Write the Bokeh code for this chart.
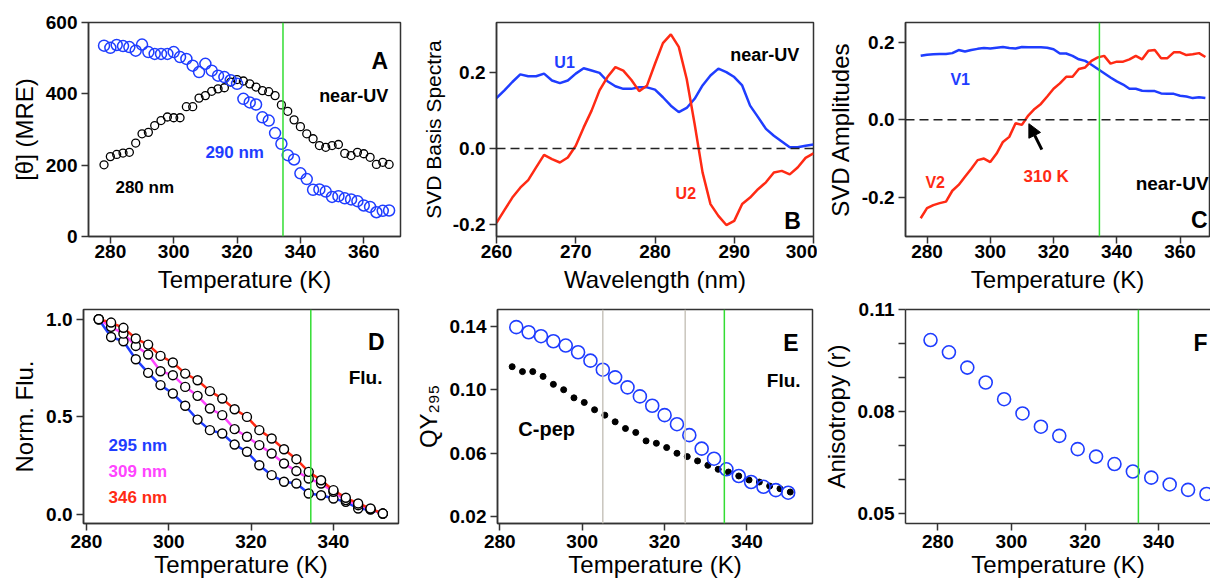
from bokeh.plotting import figure
from bokeh.layouts import column, row
from bokeh.models import Range1d, FixedTicker, PrintfTickFormatter, Span, Arrow, NormalHead, LinearAxis
from bokeh.core.properties import value
from bokeh.embed import file_html
from bokeh.resources import INLINE

FONT = "Liberation Sans"
BLUE = "#1f3dff"
RED = "#ff2a14"
MAGENTA = "#ff45ff"
GREEN = "#33dd33"
GRAY = "#c9c5bd"
AXC = "#333333"

TM = 334.5

# ---- Panel A: near-UV CD vs temperature
temp_a = [278, 280, 282, 284, 286, 288, 290, 292, 294, 296, 298, 300, 302, 304, 306, 308,
          310, 312, 314, 316, 318, 320, 322, 324, 326, 328, 330, 332, 334, 336, 338, 340,
          342, 344, 346, 348, 350, 352, 354, 356, 358, 360, 362, 364, 366, 368]
cd_280 = [201, 224, 230, 234, 236, 262, 288, 292, 311, 325, 335, 333, 333, 364, 364, 388,
          395, 407, 414, 417, 433, 440, 436, 428, 419, 409, 406, 395, 369, 351, 327, 308,
          288, 274, 255, 250, 255, 258, 233, 227, 236, 232, 222, 202, 208, 202]
cd_290 = [535, 529, 537, 534, 531, 521, 538, 517, 512, 512, 512, 517, 503, 498, 479, 461,
          484, 465, 451, 447, 438, 428, 386, 376, 370, 334, 325, 290, 260, 228, 216, 177,
          161, 131, 132, 126, 111, 113, 107, 104, 99, 87, 83, 68, 72, 73]

# ---- Panel B: SVD basis spectra
wavelength = [260, 261, 262, 263, 264, 265, 266, 267, 268, 269, 270, 271, 272, 273, 274, 275,
              276, 277, 278, 279, 280, 281, 282, 283, 284, 285, 286, 287, 288, 289, 290, 291,
              292, 293, 294, 295, 296, 297, 298, 299, 300]
u1 = [0.132, 0.152, 0.174, 0.194, 0.189, 0.189, 0.196, 0.178, 0.171, 0.178, 0.196, 0.210,
      0.204, 0.198, 0.176, 0.163, 0.156, 0.156, 0.160, 0.160, 0.154, 0.134, 0.112, 0.095,
      0.106, 0.130, 0.165, 0.191, 0.209, 0.200, 0.187, 0.165, 0.112, 0.082, 0.051, 0.033,
      0.018, 0.003, 0.003, 0.007, 0.010]
u2 = [-0.195, -0.162, -0.129, -0.103, -0.083, -0.050, -0.017, -0.028, -0.037, -0.024, 0.007,
      0.055, 0.099, 0.152, 0.187, 0.213, 0.204, 0.180, 0.150, 0.165, 0.222, 0.276, 0.299,
      0.266, 0.182, 0.064, -0.063, -0.146, -0.177, -0.201, -0.190, -0.146, -0.129, -0.107,
      -0.089, -0.063, -0.059, -0.068, -0.050, -0.025, -0.013]

# ---- Panel C: SVD amplitudes
temp_c = [278, 280, 282, 284, 286, 288, 290, 292, 294, 296, 298, 300, 302, 304, 306, 308,
          310, 312, 314, 316, 318, 320, 322, 324, 326, 328, 330, 332, 334, 336, 338, 340,
          342, 344, 346, 348, 350, 352, 354, 356, 358, 360, 362, 364, 366, 368]
v1 = [0.165, 0.168, 0.169, 0.170, 0.170, 0.172, 0.180, 0.176, 0.180, 0.183, 0.185, 0.184,
      0.186, 0.188, 0.185, 0.184, 0.188, 0.187, 0.187, 0.187, 0.186, 0.182, 0.171, 0.171,
      0.165, 0.156, 0.152, 0.142, 0.131, 0.120, 0.109, 0.099, 0.091, 0.080, 0.080, 0.075,
      0.074, 0.074, 0.068, 0.067, 0.067, 0.062, 0.060, 0.056, 0.058, 0.056]
v2 = [-0.254, -0.228, -0.220, -0.215, -0.211, -0.183, -0.168, -0.147, -0.126, -0.104, -0.100,
      -0.109, -0.087, -0.057, -0.044, -0.009, -0.013, 0.011, 0.028, 0.041, 0.060, 0.080,
      0.094, 0.111, 0.111, 0.131, 0.135, 0.152, 0.161, 0.165, 0.145, 0.150, 0.150, 0.156,
      0.165, 0.156, 0.178, 0.180, 0.159, 0.159, 0.174, 0.174, 0.167, 0.169, 0.172, 0.162]

# ---- Panel D: normalized fluorescence
temp_d = [283, 286, 289, 292, 295, 298, 301, 304, 307, 310, 313, 316, 319, 322, 325, 328,
          331, 334, 337, 340, 343, 346, 349, 352]
flu_295 = [1.0, 0.909, 0.887, 0.795, 0.725, 0.662, 0.619, 0.556, 0.485, 0.431, 0.414, 0.357,
           0.320, 0.251, 0.200, 0.166, 0.157, 0.106, 0.097, 0.080, 0.063, 0.029, 0.023, 0.003]
flu_309 = [1.0, 0.961, 0.926, 0.863, 0.819, 0.733, 0.713, 0.653, 0.607, 0.542, 0.508, 0.436,
           0.397, 0.354, 0.311, 0.260, 0.221, 0.183, 0.157, 0.115, 0.072, 0.046, 0.026, 0.003]
flu_346 = [1.0, 0.983, 0.956, 0.901, 0.870, 0.812, 0.778, 0.721, 0.687, 0.631, 0.593, 0.538,
           0.499, 0.431, 0.388, 0.333, 0.282, 0.217, 0.174, 0.123, 0.084, 0.055, 0.029, 0.003]

# ---- Panel E: quantum yield
temp_e = [284, 287, 290, 293, 296, 299, 302, 305, 308, 311, 314, 317, 320, 323, 326, 329,
          332, 335, 338, 341, 344, 347, 350]
qy_protein = [0.1394, 0.1362, 0.1337, 0.1305, 0.1278, 0.1236, 0.1183, 0.1126, 0.1078, 0.1015,
              0.0958, 0.0899, 0.0840, 0.0783, 0.0714, 0.0629, 0.0566, 0.0499, 0.0457, 0.0419,
              0.0389, 0.0368, 0.0352]
temp_cpep = [283, 285.5, 288, 290.5, 293, 295.5, 298, 300.5, 303, 305.5, 308, 310.5, 313,
             315.5, 318, 320.5, 323, 325.5, 328, 330.5, 333, 335.5, 338, 340.5, 343, 345.5,
             348, 350.5]
qy_cpep = [0.1145, 0.1114, 0.1114, 0.1084, 0.1034, 0.1000, 0.0949, 0.0920, 0.0874, 0.0840,
           0.0798, 0.0756, 0.0731, 0.0678, 0.0663, 0.0636, 0.0600, 0.0579, 0.0552, 0.0524,
           0.0499, 0.0482, 0.0457, 0.0432, 0.0419, 0.0394, 0.0377, 0.0356]
gray_marks = [305, 325]

# ---- Panel F: anisotropy
temp_f = [278, 283, 288, 293, 298, 303, 308, 313, 318, 323, 328, 333, 338, 343, 348, 353]
aniso = [0.1010, 0.0974, 0.0929, 0.0885, 0.0836, 0.0794, 0.0755, 0.0728, 0.0689, 0.0667,
         0.0645, 0.0623, 0.0605, 0.0585, 0.0569, 0.0557]


def base(width, height, lb, rb, tb, bb, xr, yr, xticks, yticks, xfmt, yfmt, xlabel, ylabel,
         xstand, xlstand, ylsize="24px", yminor=None, outline=True):
    p = figure(width=width, height=height, x_range=Range1d(*xr), y_range=Range1d(*yr),
               output_backend="svg", toolbar_location=None,
               min_border_left=lb, min_border_right=rb, min_border_top=tb, min_border_bottom=bb)
    p.xgrid.visible = False
    p.ygrid.visible = False
    p.background_fill_color = "white"
    p.border_fill_color = "white"
    p.outline_line_color = AXC if outline else None
    p.outline_line_width = 1.5
    p.xaxis.ticker = FixedTicker(ticks=xticks)
    p.yaxis.ticker = FixedTicker(ticks=yticks, minor_ticks=yminor or [])
    p.xaxis.formatter = PrintfTickFormatter(format=xfmt)
    p.yaxis.formatter = PrintfTickFormatter(format=yfmt)
    for ax in [p.xaxis[0], p.yaxis[0]]:
        ax.axis_line_color = AXC
        ax.axis_line_width = 1.5
        ax.major_tick_line_color = AXC
        ax.major_tick_line_width = 1.5
        ax.major_tick_out = 7
        ax.major_tick_in = 0
        ax.minor_tick_line_color = AXC
        ax.minor_tick_line_width = 1.5
        ax.minor_tick_out = 7 if yminor else 0
        ax.minor_tick_in = 0
        ax.major_label_text_font = FONT
        ax.major_label_text_font_style = "bold"
        ax.major_label_text_font_size = "19px"
        ax.major_label_text_color = "black"
        ax.axis_label_text_font = FONT
        ax.axis_label_text_font_style = "normal"
        ax.axis_label_text_color = "black"
    p.xaxis[0].minor_tick_out = 0
    p.xaxis.axis_label = xlabel
    p.yaxis.axis_label = ylabel
    p.xaxis.axis_label_text_font_size = "24px"
    p.yaxis.axis_label_text_font_size = ylsize
    p.xaxis.major_label_standoff = xstand
    p.xaxis.axis_label_standoff = xlstand
    p.yaxis.major_label_standoff = 4
    p.yaxis.axis_label_standoff = 5
    return p


def txt(p, x, y, s, color="black", size="17px", align="left"):
    p.text(x=[x], y=[y], text=[s], text_color=color, text_font=value(FONT),
           text_font_style="bold", text_font_size=size, text_align=align,
           text_baseline="alphabetic")


def vline(p, x, color=GREEN):
    p.add_layout(Span(location=x, dimension="height", line_color=color, line_width=1.5))


def zero(p):
    p.add_layout(Span(location=0, dimension="width", line_color="#222222", line_width=1.5,
                      line_dash="9 5"))


# Panel A
pa = base(404, 297, 88, 4, 22, 61, (273.1, 371.6), (0, 600), [280, 300, 320, 340, 360],
          [0, 200, 400, 600], "%d", "%d", "Temperature (K)", "[θ] (MRE)", 1, 5)
vline(pa, TM)
pa.scatter(temp_a, cd_280, size=8, marker="circle", fill_color=None, line_color="black", line_width=1.3)
pa.scatter(temp_a, cd_290, size=11, marker="circle", fill_color=None, line_color=BLUE, line_width=1.5)
txt(pa, 367.7, 493, "A", size="23px", align="right")
txt(pa, 367.7, 395, "near-UV", size="18px", align="right")
txt(pa, 310, 236, "290 nm", color=BLUE)
txt(pa, 281.6, 138, "280 nm")

# Panel B
pb = base(413, 297, 92, 4, 22, 61, (260, 300), (-0.231, 0.330), [260, 270, 280, 290, 300],
          [-0.2, 0.0, 0.2], "%d", "%.1f", "Wavelength (nm)", "SVD Basis Spectra", 1, 5,
          ylsize="21px")
zero(pb)
pb.line(wavelength, u1, line_color=BLUE, line_width=2.5)
pb.line(wavelength, u2, line_color=RED, line_width=2.5)
txt(pb, 267.3, 0.226, "U1", color=BLUE, size="16px")
txt(pb, 282.6, -0.119, "U2", color=RED, size="16px")
txt(pb, 298.2, 0.246, "near-UV", size="18px", align="right")
txt(pb, 298.4, -0.191, "B", size="23px", align="right")

# Panel C
pc = base(393, 297, 88, 1, 22, 61, (273.2, 369.3), (-0.301, 0.251), [280, 300, 320, 340, 360],
          [-0.2, 0.0, 0.2], "%d", "%.1f", "Temperature (K)", "SVD Amplitudes", 1, 5)
zero(pc)
vline(pc, TM)
pc.line(temp_c, v1, line_color=BLUE, line_width=2.5)
pc.line(temp_c, v2, line_color=RED, line_width=2.5)
pc.add_layout(Arrow(end=NormalHead(size=13, fill_color="black", line_color="black"),
                    x_start=316.3, y_start=-0.077, x_end=312.2, y_end=-0.010,
                    line_color="black", line_width=3))
txt(pc, 287.4, 0.105, "V1", color=BLUE, size="16px")
txt(pc, 279.5, -0.161, "V2", color=RED, size="16px")
txt(pc, 310.5, -0.146, "310 K", color=RED)
txt(pc, 369.0, -0.165, "near-UV", size="19px", align="right")
txt(pc, 368.7, -0.258, "C", size="23px", align="right")

# Panel D
pd_ = base(404, 285, 83, 6, 12, 59, (279.3, 355.8), (-0.048, 1.05), [280, 300, 320, 340],
           [0.0, 0.5, 1.0], "%d", "%.1f", "Temperature (K)", "Norm. Flu.", 4, 0)
vline(pd_, TM)
for ys, col in [(flu_295, BLUE), (flu_309, MAGENTA), (flu_346, RED)]:
    pd_.line(temp_d, ys, line_color=col, line_width=2.5)
for ys in [flu_295, flu_309, flu_346]:
    pd_.scatter(temp_d, ys, size=9, marker="circle", fill_color="white", line_color="black",
                line_width=1.4)
txt(pd_, 352.4, 0.884, "D", size="23px", align="right")
txt(pd_, 351.9, 0.699, "Flu.", size="19px", align="right")
txt(pd_, 285.4, 0.354, "295 nm", color=BLUE)
txt(pd_, 285.4, 0.221, "309 nm", color=MAGENTA)
txt(pd_, 285.4, 0.084, "346 nm", color=RED)

# Panel E
pe = base(413, 285, 93, 5, 12, 59, (279.44, 355.9), (0.0158, 0.1505), [280, 300, 320, 340],
          [0.02, 0.06, 0.10, 0.14], "%d", "%.2f", "Temperature (K)", "QY₂₉₅", 4, 0)
for g in gray_marks:
    vline(pe, g, color=GRAY)
vline(pe, TM)
pe.scatter(temp_cpep, qy_cpep, size=6, marker="circle", fill_color="black", line_color="black")
pe.scatter(temp_e, qy_protein, size=13, marker="circle", fill_color=None, line_color=BLUE,
           line_width=1.6)
txt(pe, 352.5, 0.1295, "E", size="23px", align="right")
txt(pe, 353.0, 0.1057, "Flu.", size="19px", align="right")
txt(pe, 284.5, 0.0752, "C-pep", size="20px")

# Panel F
pf = base(393, 285, 88, 0, 12, 59, (271.2, 354.1), (0.047, 0.11), [280, 300, 320, 340],
          [0.05, 0.08, 0.11], "%d", "%.2f", "Temperature (K)", "Anisotropy (r)", 4, 0,
          yminor=[0.06, 0.07, 0.09, 0.10], outline=False)
top_ax = LinearAxis(ticker=FixedTicker(ticks=[]), axis_line_color=AXC, axis_line_width=1.5,
                    major_label_text_font_size="0px", major_tick_out=0, minor_tick_out=0)
pf.add_layout(top_ax, "above")
vline(pf, TM)
pf.scatter(temp_f, aniso, size=13, marker="circle", fill_color=None, line_color=BLUE,
           line_width=1.6)
txt(pf, 349.5, 0.100, "F", size="23px")

layout = column(row(pa, pb, pc), row(pd_, pe, pf))

open("out.html", "w").write(file_html(layout, INLINE))
